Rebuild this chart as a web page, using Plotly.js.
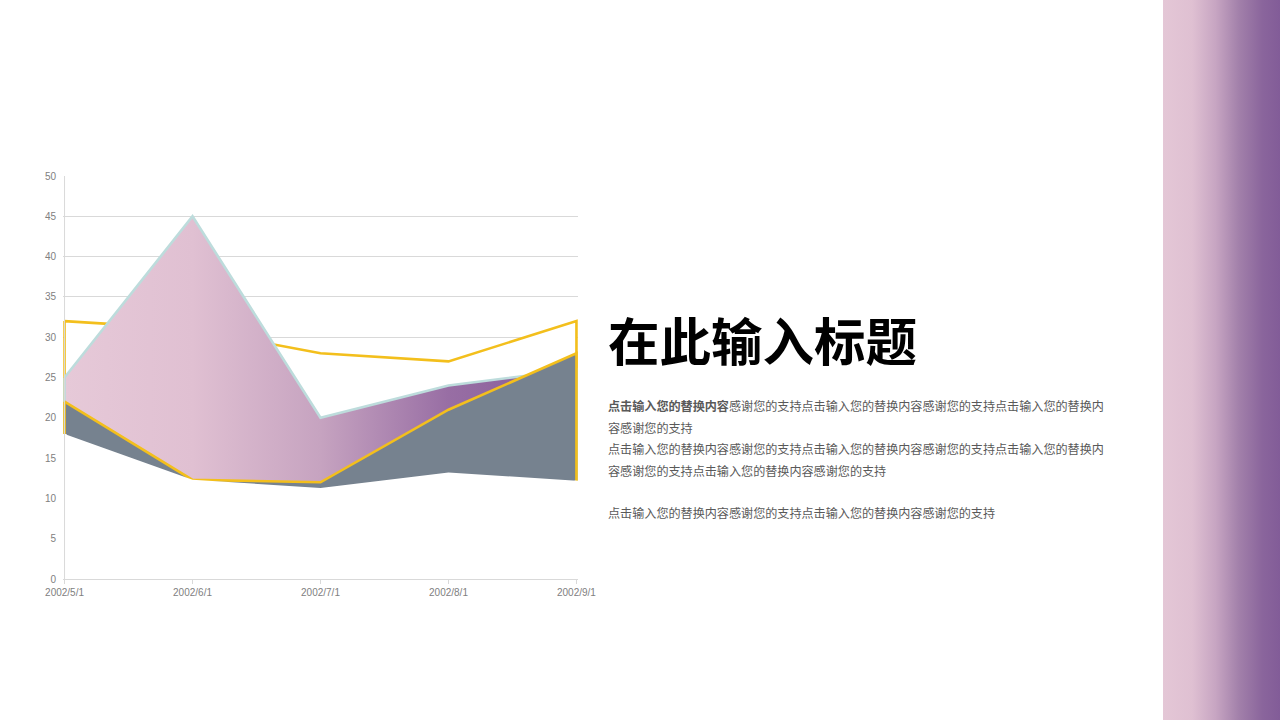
<!DOCTYPE html>
<html>
<head>
<meta charset="utf-8">
<script src="https://cdn.plot.ly/plotly-3.0.1.min.js"></script>
<style>
html,body{margin:0;padding:0;background:#fff;}
#wrap{position:relative;width:1280px;height:720px;overflow:hidden;}
#chart{position:absolute;left:0;top:0;width:1280px;height:720px;}
#bar{position:absolute;left:1163px;top:0;width:117px;height:720px;
background:linear-gradient(to right,#e4c7d6 0%,#dfc0d2 25%,#c7a5c2 45%,#a280aa 65%,#8a659c 85%,#825c98 100%);}
</style>
</head>
<body>
<div id="wrap"><div id="chart"></div><div id="bar"></div></div>
<script>
// ---- data ----
const categories = ['2002/5/1','2002/6/1','2002/7/1','2002/8/1','2002/9/1'];
const seriesTop    = [32, 31, 28, 27, 32];     // yellow outline, white fill
const seriesPink   = [25, 45, 20, 24, 26];     // pink gradient, light blue outline
const seriesGray   = [22, 12.3, 12, 21, 28];   // gray fill, yellow outline
const seriesBase   = [18, 12.3, 11.3, 13.2, 12.2]; // white cover
const yTicks = [0,5,10,15,20,25,30,35,40,45,50];

const titleText = '在此输入标题';
const bodyLines = [
  '<b>点击输入您的替换内容</b>感谢您的支持点击输入您的替换内容感谢您的支持点击输入您的替换内',
  '容感谢您的支持',
  '点击输入您的替换内容感谢您的支持点击输入您的替换内容感谢您的支持点击输入您的替换内',
  '容感谢您的支持点击输入您的替换内容感谢您的支持',
  '',
  '点击输入您的替换内容感谢您的支持点击输入您的替换内容感谢您的支持'
];

// closed polygon (area down to zero) built from a series
function closed(vals){
  const n = categories.length;
  return {
    x: categories.concat([categories[n-1], categories[0], categories[0]]),
    y: vals.concat([0, 0, vals[0]])
  };
}

const YEL = '#f3bf1c';
const n = categories.length;
const pA = closed(seriesTop), pB = closed(seriesPink), pC = closed(seriesGray);
const traces = [
  {x:pA.x, y:pA.y, type:'scatter', mode:'lines', fill:'toself', fillcolor:'#ffffff',
   line:{color:YEL, width:2.6}, hoverinfo:'skip'},
  {x:pB.x, y:pB.y, type:'scatter', mode:'lines', fill:'toself', fillcolor:'#d9b8cf',
   fillgradient:{type:'horizontal', colorscale:[[0,'#e6c9d8'],[0.25,'#e0c0d2'],[0.5,'#c6a3c0'],[0.75,'#986ea4'],[1,'#845a98']]},
   line:{color:'#bddcdc', width:2.6}, hoverinfo:'skip'},
  {x:pC.x, y:pC.y, type:'scatter', mode:'lines', fill:'toself', fillcolor:'#76828f',
   line:{color:YEL, width:2.6}, hoverinfo:'skip'},
  {x:categories, y:seriesBase, type:'scatter', mode:'lines', fill:'tozeroy', fillcolor:'#ffffff',
   line:{color:'#ffffff', width:0}, hoverinfo:'skip'},
  // white cover over the outer edges below the base series
  {x:[categories[0], categories[0], null, categories[n-1], categories[n-1]],
   y:[0, seriesBase[0], null, 0, seriesBase[n-1]],
   type:'scatter', mode:'lines', connectgaps:false, line:{color:'#ffffff', width:4}, hoverinfo:'skip'}
];

// plot area geometry: first category at 65px, last at 576px; small padding so edge lines are not clipped
const PAD = 0.012;
const L = 65 - PAD*127.75, R = 576 + PAD*127.75, T = 176, B = 579;
const W = R - L, H = B - T;
const px = v => (v - L)/W;
const py = v => (B - v)/H;

const annotations = [{
  text: titleText, xref:'paper', yref:'paper', x:px(605), y:py(338),
  xanchor:'left', yanchor:'middle', showarrow:false,
  font:{family:'Noto Sans CJK SC', size:51.5, color:'#000000', weight:'bold'}
}];
const lineY = [405, 427, 448, 470, 491, 512];
bodyLines.forEach((t,i)=>{
  if(!t) return;
  annotations.push({
    text:t, xref:'paper', yref:'paper', x:px(605), y:py(lineY[i]),
    xanchor:'left', yanchor:'middle', showarrow:false, align:'left',
    font:{family:'Noto Sans CJK SC', size:12.1, color:'#595959'}
  });
});

const layout = {
  width:1280, height:720,
  margin:{l:L, r:1280-R, t:T, b:720-B},
  paper_bgcolor:'#ffffff', plot_bgcolor:'#ffffff',
  showlegend:false,
  xaxis:{type:'category', categoryorder:'array', categoryarray:categories, range:[-PAD, 4+PAD],
    showgrid:false, zeroline:false, showline:true, linecolor:'#d9d9d9', linewidth:1,
    ticks:'outside', ticklen:4, tickcolor:'#d9d9d9',
    tickfont:{family:'Liberation Sans', size:10, color:'#808080'}},
  yaxis:{range:[0,50], tickvals:yTicks, showgrid:true, gridcolor:'#d9d9d9', gridwidth:1,
    zeroline:false, showline:false, ticks:'',
    tickfont:{family:'Liberation Sans', size:10, color:'#808080'}, ticklabelstandoff:6},
  shapes:[{type:'line', xref:'x', yref:'paper', x0:0, x1:0, y0:0, y1:1,
    line:{color:'#d9d9d9', width:1}, layer:'above'}],
  annotations: annotations
};

Plotly.newPlot('chart', traces, layout, {staticPlot:true, displayModeBar:false});
</script>
</body>
</html>
